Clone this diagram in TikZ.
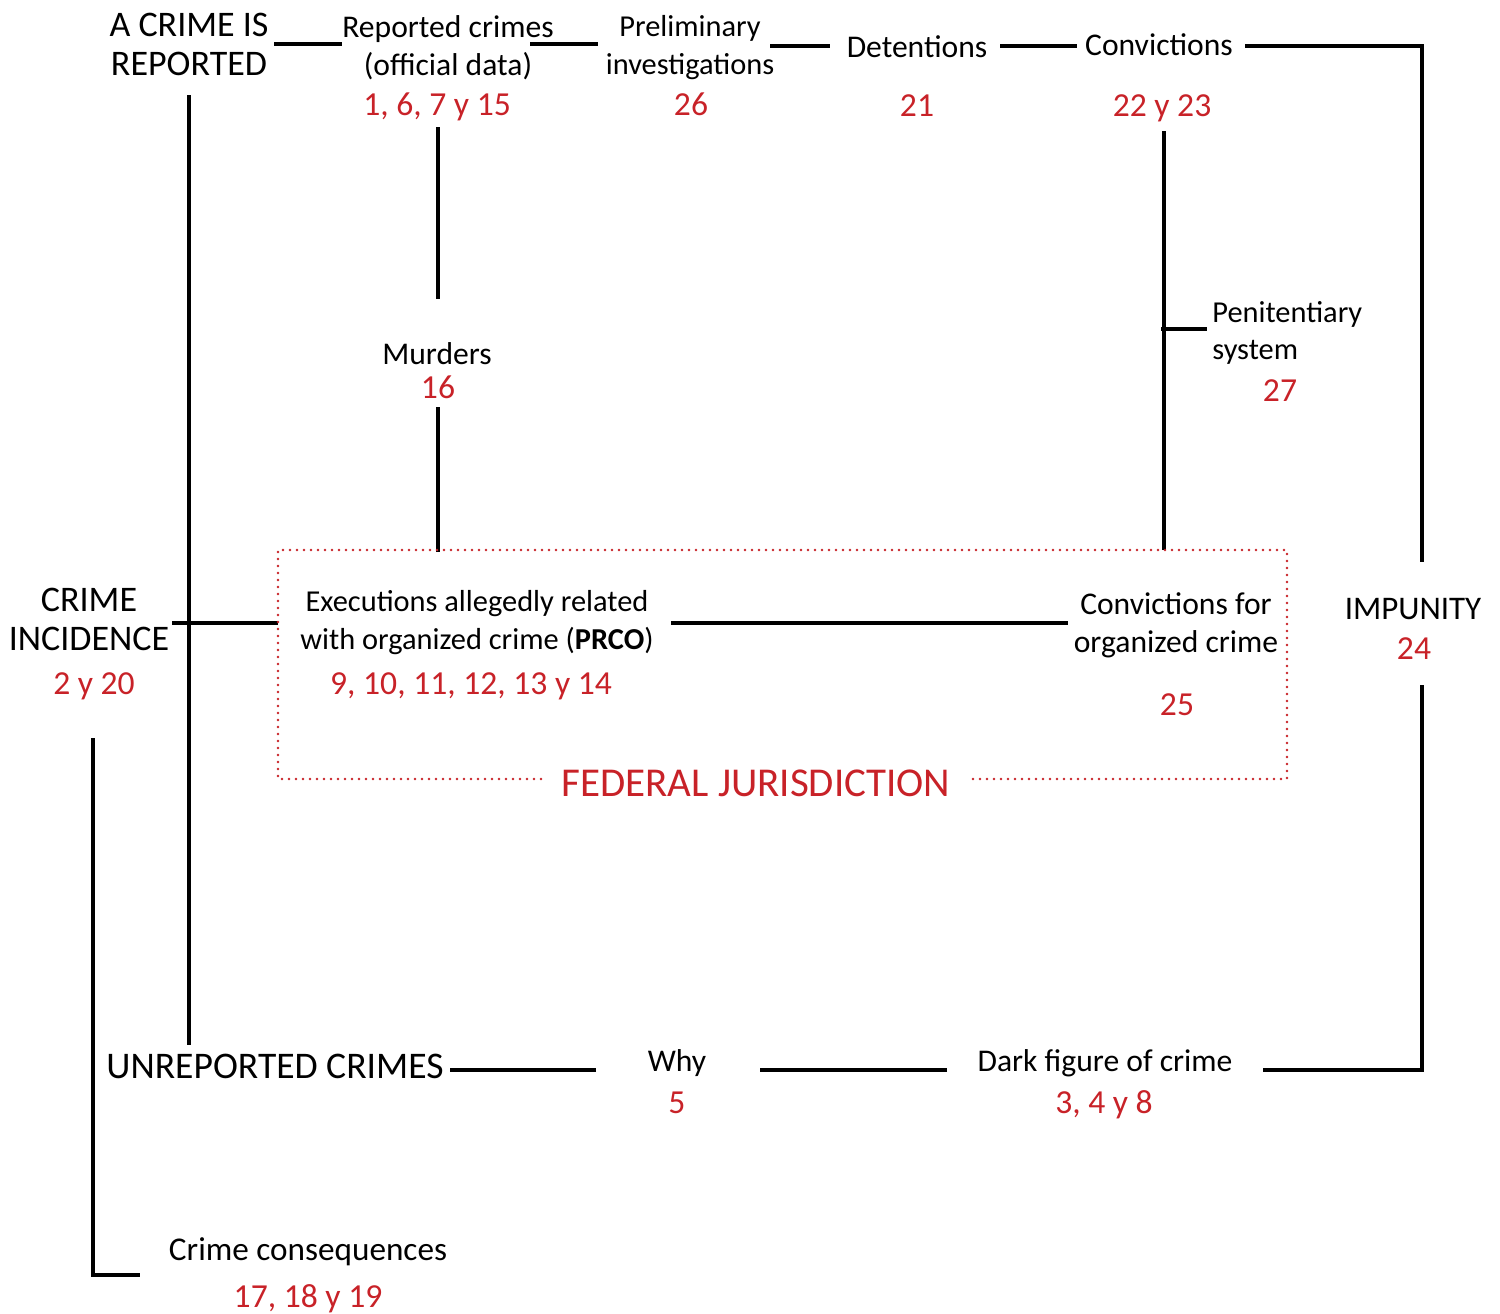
\documentclass[tikz,border=0pt]{standalone}
\usepackage{fontspec}
\setmainfont{Carlito}
\definecolor{numred}{RGB}{200,34,40}
\begin{document}
\begin{tikzpicture}[x=0.5pt,y=-0.5pt,
  lbl/.style={inner sep=0pt, font=\fontsize{15.8}{19}\selectfont, align=center, text=black},
  one/.style={inner sep=0pt, font=\fontsize{15.8}{19}\selectfont, text=black, anchor=base},
  num/.style={inner sep=0pt, font=\fontsize{16.8}{20}\selectfont, text=numred, anchor=base},
  caps/.style={font=\fontsize{18}{19.5}\selectfont},
  conn/.style={line width=2.4pt, line cap=butt, line join=miter},
  fedbox/.style={draw=numred, line width=1.4pt, line cap=round, dash pattern=on 0pt off 3.5pt}]
\useasboundingbox (0,0) rectangle (1500,1313);

% ---- labels ----
\node[lbl, caps] (crimerep) at (189,44) {A CRIME IS\\REPORTED};
\node[lbl] (reported) at (448,47.5) {Reported crimes\\(official data)};
\node[num] (n1) at (437,115) {1, 6, 7 y 15};
\node[lbl, font=\fontsize{15.2}{19}\selectfont] (prelim) at (690,47.5) {Preliminary\\investigations};
\node[num] (n26) at (691,115) {26};
\node[one] (detent) at (917,57) {Detentions};
\node[num] (n21) at (917,116) {21};
\node[one] (convict) at (1159,55) {Convictions};
\node[num] (n2223) at (1162,116) {22 y 23};
\node[one] (murders) at (437,364) {Murders};
\node[num] (n16) at (438,398) {16};
\node[lbl, font=\fontsize{15.2}{18.5}\selectfont, align=left, anchor=west] (penit) at (1212,333) {Penitentiary\\system};
\node[num] (n27) at (1280,401) {27};
\node[lbl, caps] (crimeinc) at (89,619) {CRIME\\INCIDENCE};
\node[num] (n220) at (94,694) {2 y 20};
\node[lbl, font=\fontsize{15.2}{18.7}\selectfont] (exec) at (477,622.5) {Executions allegedly related\\with organized crime (\textbf{PRCO})};
\node[num] (n914) at (471,694) {9, 10, 11, 12, 13 y 14};
\node[lbl] (convorg) at (1176,625.5) {Convictions for\\organized crime};
\node[num] (n25) at (1177,715) {25};
\node[one, font=\fontsize{16.5}{19}\selectfont] (impunity) at (1413,619) {IMPUNITY};
\node[num] (n24) at (1414,659) {24};
\node[inner sep=0pt, font=\fontsize{20.5}{22}\selectfont, text=numred, anchor=base] (federal) at (756,796) {FEDERAL JURISDICTION};
\node[one, font=\fontsize{18.8}{20}\selectfont] (unrep) at (275,1078) {UNREPORTED CRIMES};
\node[one] (why) at (677,1071) {Why};
\node[num] (n5) at (677,1113) {5};
\node[one] (dark) at (1105,1071) {Dark figure of crime};
\node[num] (n348) at (1104,1113) {3, 4 y 8};
\node[one, font=\fontsize{16.6}{19}\selectfont] (conseq) at (308,1260) {Crime consequences};
\node[num] (n1719) at (308,1307) {17, 18 y 19};

% ---- connector end points ----
\coordinate (a1) at (274,44);   \coordinate (a2) at (342,44);
\coordinate (b1) at (530,44);   \coordinate (b2) at (598,44);
\coordinate (c1) at (770,46);   \coordinate (c2) at (830,46);
\coordinate (d1) at (1000,46);  \coordinate (d2) at (1077,46);
\coordinate (e1) at (1245,46);  \coordinate (e2) at (1422,46);  \coordinate (e3) at (1422,562);
\coordinate (f1) at (1422,685); \coordinate (f2) at (1422,1070); \coordinate (f3) at (1263,1070);
\coordinate (g1) at (947,1070); \coordinate (g2) at (760,1070);
\coordinate (h1) at (596,1070); \coordinate (h2) at (450,1070);
\coordinate (v1) at (189,95);   \coordinate (v2) at (189,1045);
\coordinate (i1) at (172,623);  \coordinate (i2) at (278,623);
\coordinate (j1) at (93,738);   \coordinate (j2) at (93,1275);   \coordinate (j3) at (140,1275);
\coordinate (k1) at (438,127);  \coordinate (k2) at (438,299);
\coordinate (m1) at (438,407);  \coordinate (m2) at (438,552);
\coordinate (p1) at (671,623);  \coordinate (p2) at (1068,623);
\coordinate (q1) at (1164,131); \coordinate (q2) at (1164,550);
\coordinate (r1) at (1161,329); \coordinate (r2) at (1207,329);

% ---- connectors ----
\draw[conn] (a1) -- (a2);
\draw[conn] (b1) -- (b2);
\draw[conn] (c1) -- (c2);
\draw[conn] (d1) -- (d2);
\draw[conn] (e1) -- (e2) -- (e3);
\draw[conn] (f1) -- (f2) -- (f3);
\draw[conn] (g1) -- (g2);
\draw[conn] (h1) -- (h2);
\draw[conn] (v1) -- (v2);
\draw[conn] (i1) -- (i2);
\draw[conn] (j1) -- (j2) -- (j3);
\draw[conn] (k1) -- (k2);
\draw[conn] (m1) -- (m2);
\draw[conn] (p1) -- (p2);
\draw[conn] (q1) -- (q2);
\draw[conn] (r1) -- (r2);

% ---- federal jurisdiction box ----
\coordinate (fb1) at (541,779); \coordinate (fb2) at (972,779);
\draw[fedbox] (fb1) -- (278,779) -- (278,550) -- (1287,550) -- (1287,779) -- (fb2);
\end{tikzpicture}
\end{document}
